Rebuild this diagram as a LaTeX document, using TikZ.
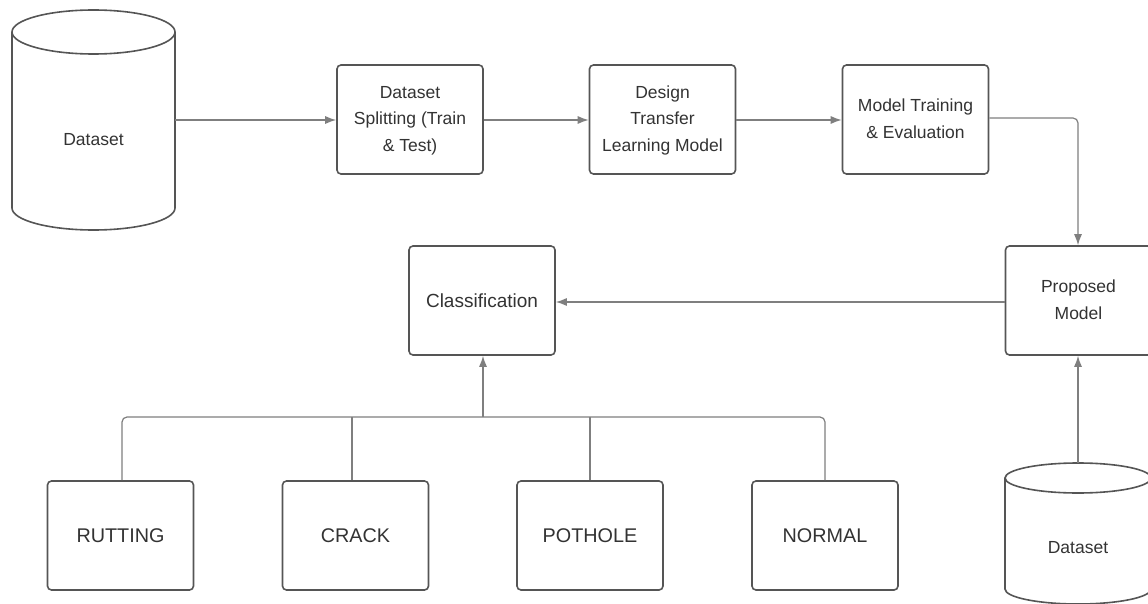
\documentclass[tikz,border=0pt]{standalone}
\usepackage{fontspec}
\setmainfont{Liberation Sans}
\usetikzlibrary{arrows.meta}
\definecolor{edge}{HTML}{555555}
\definecolor{wire}{HTML}{7F7F7F}
\definecolor{ink}{HTML}{333333}
\tikzset{
  stepbox/.style={draw=edge, line width=1.6pt, rounded corners=4pt, fill=white,
    minimum width=146pt, minimum height=109pt, align=center, text=ink,
    font=\fontsize{17.5}{26.5}\selectfont, inner sep=0pt},
  classbox/.style={stepbox, font=\fontsize{19.8}{24}\selectfont},
  drum/.style={draw=edge, line width=1.6pt, fill=white},
  hidden/.style={inner sep=0pt, text=ink, font=\fontsize{17.5}{22}\selectfont},
  flow/.style={draw=wire, line width=1.2pt, -{Latex[length=11pt,width=8pt]}},
  link/.style={draw=wire, line width=1.2pt, rounded corners=5pt},
}
\begin{document}
\begin{tikzpicture}[x=1pt,y=-1pt]
\useasboundingbox (0,0) rectangle (1148,604);
\clip (0,0) rectangle (1148,604);
\fill[white] (0,0) rectangle (1148,604);

% upper data store
\draw[drum] (12,32) -- (12,208) arc[start angle=180,end angle=0,x radius=81.5,y radius=22] -- (175,32);
\draw[drum] (93.5,32) ellipse[x radius=81.5,y radius=22];
\node[hidden, minimum width=163pt, minimum height=220pt] (ds1) at (93.5,120) {};
\node[hidden] at (93.5,140) {Dataset};

% lower data store
\draw[drum] (1005,478) -- (1005,589) arc[start angle=180,end angle=0,x radius=73,y radius=15] -- (1151,478);
\draw[drum] (1078,478) ellipse[x radius=73,y radius=15];
\node[hidden, minimum width=146pt, minimum height=141pt] (ds2) at (1078,533.5) {};
\node[hidden] at (1078,548) {Dataset};

% pipeline steps
\node[stepbox] (split) at (410,119.5) {\raisebox{3pt}{\begin{tabular}{@{}c@{}}Dataset\\Splitting (Train\\\& Test)\end{tabular}}};
\node[stepbox] (design) at (662.5,119.5) {\raisebox{3pt}{\begin{tabular}{@{}c@{}}Design\\Transfer\\Learning Model\end{tabular}}};
\node[stepbox] (train) at (915.5,119.5) {\raisebox{3pt}{\begin{tabular}{@{}c@{}}Model Training\\\& Evaluation\end{tabular}}};
\node[stepbox] (prop) at (1078.5,300.5) {\begin{tabular}{@{}c@{}}Proposed\\Model\end{tabular}};
\node[stepbox, font=\fontsize{19}{24}\selectfont] (cls) at (482,300.5) {Classification};

% classes
\node[classbox] (rut) at (120.5,535.5) {RUTTING};
\node[classbox] (crk) at (355.5,535.5) {CRACK};
\node[classbox] (pot) at (590,535.5) {POTHOLE};
\node[classbox] (nor) at (825,535.5) {NORMAL};

% connectors
\draw[flow] (ds1.east |- 0,120) -- (split.west |- 0,120);
\draw[flow] (split.east |- 0,120) -- (design.west |- 0,120);
\draw[flow] (design.east |- 0,120) -- (train.west |- 0,120);
\draw[link, -{Latex[length=11pt,width=8pt]}] (train.east |- 0,118) -- (1078,118) -- (prop.north -| 1078,0);
\draw[flow] (prop.west |- 0,302) -- (cls.east |- 0,302);
\draw[flow] (ds2.north -| 1078,0) -- (prop.south -| 1078,0);

\coordinate (bus) at (483,417);
\draw[link] (rut.north -| 122,0) -- (122,417) -- (825,417) -- (nor.north -| 825,0);
\draw[link] (crk.north -| 352,0) -- (352,417);
\draw[link] (pot.north -| 590,0) -- (590,417);
\draw[flow] (bus) -- (cls.south -| bus);
\end{tikzpicture}
\end{document}
